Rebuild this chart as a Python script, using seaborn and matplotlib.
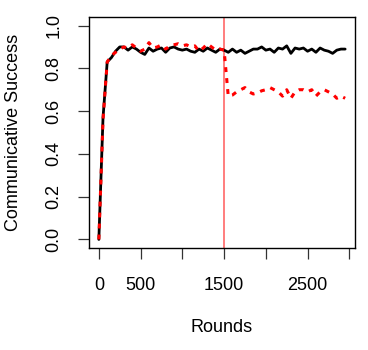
import matplotlib
matplotlib.use("Agg")
import matplotlib.pyplot as plt
import seaborn as sns
import pandas as pd

rounds = [0, 50, 100, 150, 200, 250, 300, 350, 400, 450,
          500, 550, 600, 650, 700, 750, 800, 850, 900, 950,
          1000, 1050, 1100, 1150, 1200, 1250, 1300, 1350, 1400, 1450,
          1500, 1550, 1600, 1650, 1700, 1750, 1800, 1850, 1900, 1950,
          2000, 2050, 2100, 2150, 2200, 2250, 2300, 2350, 2400, 2450,
          2500, 2550, 2600, 2650, 2700, 2750, 2800, 2850, 2900, 2950]

success_control = [0.00, 0.57, 0.83, 0.85, 0.88, 0.90, 0.90, 0.885, 0.90, 0.89,
                   0.875, 0.865, 0.895, 0.88, 0.89, 0.895, 0.875, 0.895, 0.90, 0.89,
                   0.885, 0.89, 0.88, 0.875, 0.89, 0.88, 0.895, 0.885, 0.875, 0.89,
                   0.885, 0.875, 0.89, 0.875, 0.885, 0.87, 0.88, 0.89, 0.89, 0.90,
                   0.885, 0.89, 0.875, 0.895, 0.89, 0.905, 0.87, 0.895, 0.89, 0.895,
                   0.88, 0.89, 0.875, 0.895, 0.885, 0.88, 0.87, 0.885, 0.89, 0.89]

success_shift = [0.00, 0.56, 0.83, 0.86, 0.875, 0.89, 0.90, 0.895, 0.91, 0.895,
                 0.88, 0.89, 0.92, 0.895, 0.90, 0.91, 0.89, 0.905, 0.91, 0.915,
                 0.905, 0.91, 0.90, 0.905, 0.88, 0.895, 0.915, 0.90, 0.885, 0.89,
                 0.885, 0.67, 0.675, 0.69, 0.70, 0.71, 0.69, 0.68, 0.685, 0.695,
                 0.70, 0.71, 0.70, 0.69, 0.67, 0.70, 0.66, 0.69, 0.70, 0.70,
                 0.69, 0.70, 0.67, 0.69, 0.70, 0.69, 0.68, 0.66, 0.67, 0.66]

change_round = 1500
x_ticks = [0, 500, 1000, 1500, 2000, 2500, 3000]
x_tick_labels = ["0", "500", "", "1500", "", "2500", ""]
y_ticks = [0.0, 0.2, 0.4, 0.6, 0.8, 1.0]
y_tick_labels = ["0.0", "0.2", "0.4", "0.6", "0.8", "1.0"]

df = pd.DataFrame({"Rounds": rounds,
                   "control": success_control,
                   "shift": success_shift})

sns.set_style("white")
plt.rcParams["font.family"] = ["Liberation Sans", "DejaVu Sans"]
plt.rcParams["text.color"] = "black"
plt.rcParams["axes.labelcolor"] = "black"
plt.rcParams["xtick.color"] = "black"
plt.rcParams["ytick.color"] = "black"

fig = plt.figure(figsize=(3.68, 3.5), dpi=100)
ax = fig.add_axes([89 / 368, 1 - 248 / 350, 266 / 368, 231 / 350])

ax.axvline(change_round, color="#ff5a5a", lw=1.1, zorder=1)
sns.lineplot(data=df, x="Rounds", y="control", ax=ax, color="black",
             lw=2.0, zorder=2)
sns.lineplot(data=df, x="Rounds", y="shift", ax=ax, color="#ff0000",
             lw=2.2, zorder=3, dashes=False)
ax.lines[-1].set_dashes([1.6, 2.0])

ax.set_xlim(-118, 3068)
ax.set_ylim(-0.04, 1.04)

ax.set_xticks(x_ticks)
ax.set_xticklabels(x_tick_labels, fontsize=13)
ax.set_yticks(y_ticks)
ax.set_yticklabels(y_tick_labels, fontsize=13, rotation=90, va="center")
ax.tick_params(axis="both", direction="out", length=8, width=0.9,
               color="#333333", labelcolor="black", bottom=True, left=True)
ax.tick_params(axis="x", pad=13)
ax.tick_params(axis="y", pad=11)

for s in ax.spines.values():
    s.set_visible(True)
    s.set_color("black")
    s.set_linewidth(1.0)

ax.set_xlabel("Rounds", fontsize=13)
ax.set_ylabel("Communicative Success", fontsize=13)
ax.xaxis.set_label_coords((222 - 89) / 266, -80 / 231)
ax.xaxis.label.set_va("center")
ax.yaxis.set_label_coords(-75 / 266, (248 - 132) / 231)
ax.yaxis.label.set_va("center")

fig.savefig("out.png", dpi=100)
